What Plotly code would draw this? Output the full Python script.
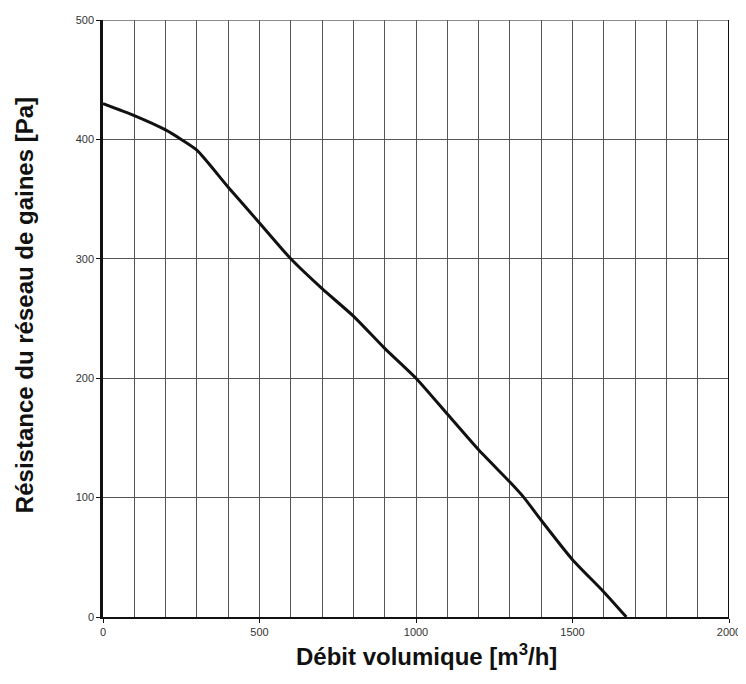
import plotly.graph_objects as go

flow = [0, 100, 200, 250, 300, 400, 500, 600, 700, 800, 900, 1000, 1100, 1200, 1300, 1345, 1400, 1500, 1600, 1672]
pressure = [430, 420, 408, 400, 391, 360, 330, 300, 275, 252, 225, 200, 170, 140, 113, 100, 81, 48, 21, 0]

x_title = "<b>Débit volumique [m<sup>3</sup>/h]</b>"
y_title = "<b>Résistance du réseau de gaines [Pa]</b>"

fig = go.Figure()
fig.add_trace(go.Scatter(x=flow, y=pressure, mode="lines",
                         line=dict(color="#111111", width=3, shape="spline", smoothing=0.6),
                         showlegend=False, hoverinfo="skip"))

font_family = "Liberation Sans, Arial, sans-serif"
# the page body adds an 8px offset, so the figure is drawn 8px smaller
fig.update_layout(
    width=738, height=676,
    margin=dict(l=95, r=17, t=12, b=67),
    paper_bgcolor="white", plot_bgcolor="white",
    font=dict(family=font_family, color="#333333", size=11),
    xaxis=dict(range=[0, 2000], tickvals=[0, 500, 1000, 1500, 2000],
               ticks="outside", ticklen=4, tickcolor="#111", tickwidth=1,
               showgrid=True, gridcolor="#555555", gridwidth=1,
               minor=dict(dtick=100, showgrid=True, gridcolor="#555555", gridwidth=1),
               showline=True, linecolor="#111111", linewidth=2, mirror=False,
               zeroline=False, automargin=False, tickfont=dict(size=11, color="#333333")),
    yaxis=dict(range=[0, 500], dtick=100,
               ticks="outside", ticklen=4, tickcolor="#111", tickwidth=1,
               showgrid=True, gridcolor="#555555", gridwidth=1,
               showline=True, linecolor="#111111", linewidth=2.5,
               zeroline=False, automargin=False, tickfont=dict(size=11, color="#333333")),
)
fig.add_annotation(text=x_title, xref="paper", yref="paper", x=0.516, y=-0.064,
                   xanchor="center", yanchor="middle", showarrow=False,
                   font=dict(size=24, color="#111111", family=font_family))
fig.add_annotation(text=y_title, xref="paper", yref="paper", x=-0.126, y=0.5226,
                   xanchor="center", yanchor="middle", showarrow=False, textangle=-90,
                   font=dict(size=24, color="#111111", family=font_family))
# top and right frame
fig.add_shape(type="line", xref="x", yref="y", x0=0, x1=2000, y0=500, y1=500,
              line=dict(color="#666666", width=1.5))
fig.add_shape(type="line", xref="x", yref="y", x0=2000, x1=2000, y0=0, y1=500,
              line=dict(color="#111111", width=2))

fig.write_html("out.html")
